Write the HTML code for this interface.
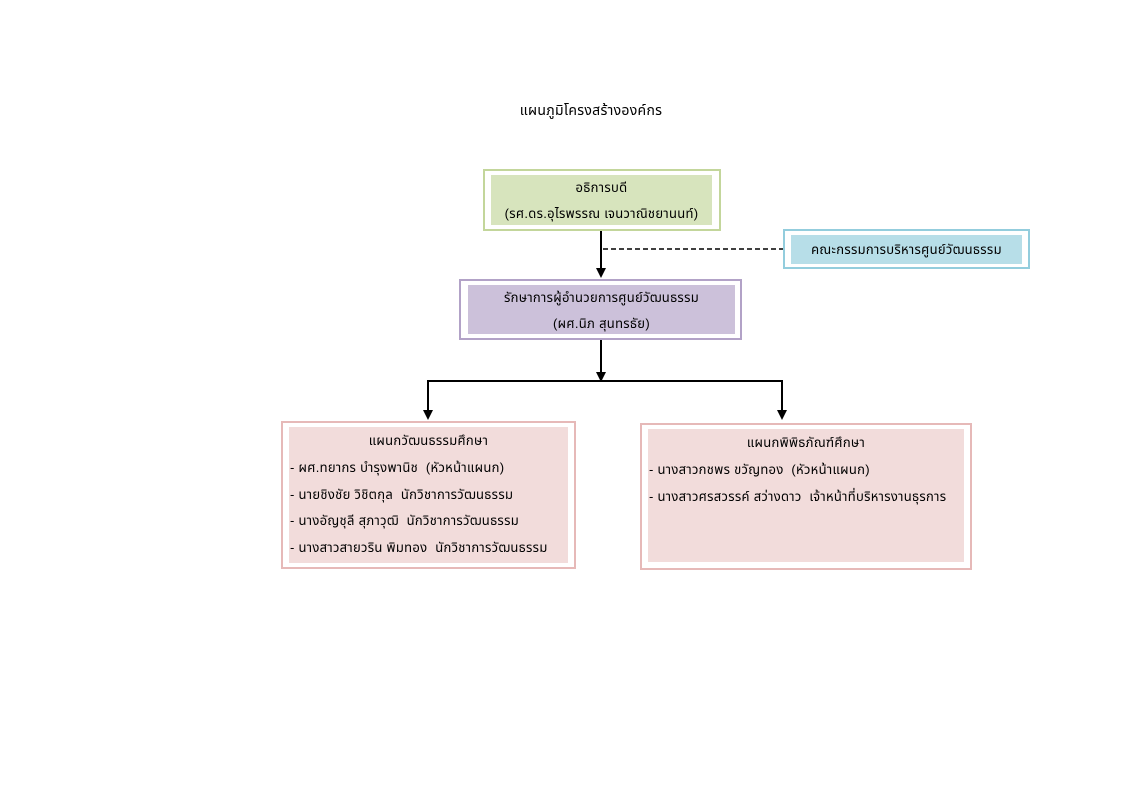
<!DOCTYPE html>
<html><head><meta charset="utf-8"><style>
body{margin:0;width:1123px;height:794px;background:#fff;position:relative;font-family:"Liberation Sans","Noto Sans Thai","Tlwg Typo","DejaVu Sans",sans-serif;font-size:13px;color:#000;overflow:hidden}
.b{position:absolute;box-sizing:border-box}
.t{position:absolute;white-space:pre;letter-spacing:0.3px}
.c{text-align:center}
</style></head><body>
<div class="t c" style="left:441px;width:300px;top:101px;font-size:14px">แผนภูมิโครงสร้างองค์กร</div>

<div class="b" style="left:483px;top:169px;width:238px;height:62px;border:2px solid #c3d69b"></div>
<div class="b" style="left:491px;top:175px;width:221px;height:50px;background:#d7e4bd"></div>
<div class="t c" style="left:491px;width:221px;top:178px">อธิการบดี</div>
<div class="t c" style="left:491px;width:221px;top:204px">(รศ.ดร.อุไรพรรณ เจนวาณิชยานนท์)</div>

<div class="b" style="left:783px;top:229px;width:247px;height:40px;border:2px solid #93cddd"></div>
<div class="b" style="left:791px;top:235px;width:231px;height:29px;background:#b7dee8"></div>
<div class="t c" style="left:791px;width:231px;top:240px">คณะกรรมการบริหารศูนย์วัฒนธรรม</div>

<div class="b" style="left:459px;top:279px;width:283px;height:61px;border:2px solid #b2a2c7"></div>
<div class="b" style="left:468px;top:285px;width:267px;height:49px;background:#ccc1da"></div>
<div class="t c" style="left:468px;width:267px;top:288px">รักษาการผู้อำนวยการศูนย์วัฒนธรรม</div>
<div class="t c" style="left:468px;width:267px;top:314px">(ผศ.นิภ สุนทรธัย)</div>

<div class="b" style="left:281px;top:421px;width:295px;height:148px;border:2px solid #e6b9b8"></div>
<div class="b" style="left:289px;top:427px;width:279px;height:136px;background:#f2dcdb"></div>
<div class="t c" style="left:289px;width:279px;top:431px">แผนกวัฒนธรรมศึกษา</div>
<div class="t" style="left:290px;top:458px">- ผศ.ทยากร บำรุงพานิช  (หัวหน้าแผนก)</div>
<div class="t" style="left:290px;top:485px">- นายชิงชัย วิชิตกุล  นักวิชาการวัฒนธรรม</div>
<div class="t" style="left:290px;top:511px">- นางอัญชุลี สุภาวุฒิ  นักวิชาการวัฒนธรรม</div>
<div class="t" style="left:290px;top:538px">- นางสาวสายวริน พิมทอง  นักวิชาการวัฒนธรรม</div>

<div class="b" style="left:640px;top:423px;width:332px;height:147px;border:2px solid #e6b9b8"></div>
<div class="b" style="left:648px;top:429px;width:316px;height:133px;background:#f2dcdb"></div>
<div class="t c" style="left:648px;width:316px;top:433px">แผนกพิพิธภัณฑ์ศึกษา</div>
<div class="t" style="left:649px;top:460px">- นางสาวกชพร ขวัญทอง  (หัวหน้าแผนก)</div>
<div class="t" style="left:649px;top:487px">- นางสาวศรสวรรค์ สว่างดาว  เจ้าหน้าที่บริหารงานธุรการ</div>

<svg width="1123" height="794" style="position:absolute;left:0;top:0">
<g stroke="#000" stroke-width="2" fill="none">
<line x1="601" y1="231" x2="601" y2="270"/>
<line x1="601" y1="340" x2="601" y2="373"/>
<polyline points="428,412 428,381 782,381 782,412"/>
</g>
<line x1="603" y1="249" x2="783" y2="249" stroke="#000" stroke-width="1.5" stroke-dasharray="5,3"/>
<g fill="#000">
<polygon points="596,268 606,268 601,278"/>
<polygon points="596,372 606,372 601,382"/>
<polygon points="423,410 433,410 428,420"/>
<polygon points="777,410 787,410 782,420"/>
</g>
</svg>
</body></html>
